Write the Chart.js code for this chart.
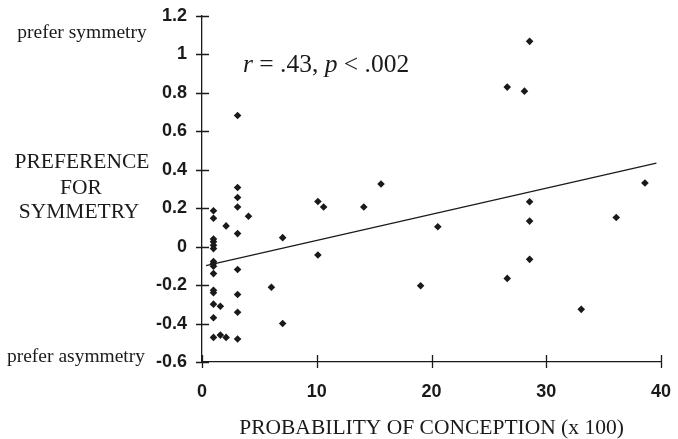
<!DOCTYPE html>
<html>
<head>
<meta charset="utf-8">
<script src="https://cdn.jsdelivr.net/npm/chart.js@4.4.1/dist/chart.umd.min.js"></script>
<style>
  html, body { margin: 0; padding: 0; background: #fff; }
  #wrap { width: 678px; height: 439px; }
</style>
</head>
<body>
<div id="wrap"><canvas id="scatter"></canvas></div>
<script>
// probability of conception (x 100) vs. preference for symmetry
const conceptionProb = [
    1, 1, 1, 1, 1, 1, 1, 1, 1, 1, 1, 1, 1, 1, 1,
    1.6, 1.6, 2.1, 2.1,
    3.1, 3.1, 3.1, 3.1, 3.1, 3.1, 3.1, 3.1, 3.1,
    4.05, 6.05, 7.03, 7.03, 10.1, 10.1, 10.6, 14.1, 15.6,
    19.05, 20.55, 26.6, 26.6, 28.1, 28.55, 28.55, 28.55, 28.55,
    33.05, 36.1, 38.6
];
const symmetryPref = [
    0.187, 0.148, 0.04, 0.026, 0.008, -0.01, -0.077, -0.088, -0.102, -0.14, -0.227, -0.24, -0.299, -0.37, -0.472,
    -0.31, -0.46, 0.108, -0.472,
    0.682, 0.308, 0.256, 0.206, 0.068, -0.119, -0.249, -0.341, -0.48,
    0.158, -0.211, 0.047, -0.4, 0.235, -0.043, 0.206, 0.206, 0.326,
    -0.203, 0.104, 0.83, -0.165, 0.809, 1.068, 0.234, 0.133, -0.066,
    -0.326, 0.152, 0.331
];
// fitted line end points
const fitX = [0.35, 39.6];
const fitY = [-0.099, 0.435];

const xTicks = [0, 10, 20, 30, 40];
const yTicks = [-0.6, -0.4, -0.2, 0, 0.2, 0.4, 0.6, 0.8, 1, 1.2];

const INK = '#1a1a1a';
const SERIF = '"Liberation Serif", "Times New Roman", serif';
const SANS = '"Liberation Sans", Arial, sans-serif';

function noScalePadding(s) {
    s.paddingTop = 0; s.paddingBottom = 0;
    s.paddingLeft = 0; s.paddingRight = 0;
}

// tick marks that cross the axis lines, plus the side labels and the r/p note
const decorations = {
    id: 'decorations',
    afterDraw(chart) {
        const ctx = chart.ctx;
        const xs = chart.scales.x, ys = chart.scales.y;
        const left = chart.chartArea.left, bottom = chart.chartArea.bottom;
        ctx.save();
        ctx.strokeStyle = INK;
        ctx.lineWidth = 1.3;
        ctx.beginPath();
        yTicks.forEach(v => {
            const py = Math.round(ys.getPixelForValue(v)) + 0.5;
            ctx.moveTo(left - 6, py);
            ctx.lineTo(left + 7, py);
        });
        xTicks.forEach(v => {
            const px = Math.round(xs.getPixelForValue(v)) + 0.5;
            ctx.moveTo(px, bottom - 7);
            ctx.lineTo(px, bottom + 6);
        });
        ctx.stroke();

        ctx.fillStyle = INK;
        ctx.textAlign = 'center';
        ctx.textBaseline = 'middle';
        ctx.font = '19.5px ' + SERIF;
        ctx.fillText('prefer symmetry', 82, 33);
        ctx.fillText('prefer asymmetry', 76, 357);
        ctx.font = '21.5px ' + SERIF;
        ctx.fillText('PREFERENCE', 82, 162);
        ctx.fillText('FOR', 81, 188);
        ctx.fillText('SYMMETRY', 79, 212);

        // r = .43, p < .002
        const parts = [
            ['r', true], [' = .43, ', false], ['p', true], [' < .002', false]
        ];
        ctx.textAlign = 'left';
        let tx = 243;
        parts.forEach(([s, it]) => {
            ctx.font = (it ? 'italic ' : '') + '25.5px ' + SERIF;
            ctx.fillText(s, tx, 65);
            tx += ctx.measureText(s).width;
        });
        ctx.restore();
    }
};

new Chart(document.getElementById('scatter'), {
    type: 'scatter',
    data: {
        datasets: [{
            data: conceptionProb.map((x, i) => ({ x: x, y: symmetryPref[i] })),
            pointStyle: 'rectRot',
            pointRadius: 3.8,
            pointHoverRadius: 3.8,
            backgroundColor: INK,
            borderColor: INK,
            borderWidth: 0
        }, {
            type: 'line',
            data: fitX.map((x, i) => ({ x: x, y: fitY[i] })),
            borderColor: INK,
            borderWidth: 1.2,
            pointRadius: 0,
            fill: false
        }]
    },
    options: {
        responsive: true,
        maintainAspectRatio: false,
        animation: false,
        events: [],
        layout: { padding: { top: 16, right: 17, left: 0, bottom: 0 } },
        plugins: { legend: { display: false }, tooltip: { enabled: false } },
        scales: {
            x: {
                type: 'linear',
                min: 0, max: 40,
                afterFit: s => { s.height = 77; noScalePadding(s); },
                afterBuildTicks: s => { s.ticks = xTicks.map(v => ({ value: v })); },
                grid: { display: false, drawTicks: false },
                border: { display: true, color: INK, width: 1.3 },
                ticks: {
                    padding: 19,
                    color: INK,
                    maxRotation: 0,
                    font: { family: SANS, size: 18, weight: 'bold' }
                },
                title: {
                    display: true,
                    text: 'PROBABILITY OF CONCEPTION (x 100)',
                    color: INK,
                    padding: { top: 0, bottom: 0 },
                    font: { family: SERIF, size: 21.5, lineHeight: 1 }
                }
            },
            y: {
                type: 'linear',
                min: -0.6, max: 1.2,
                afterFit: s => { s.width = 202; noScalePadding(s); },
                afterBuildTicks: s => { s.ticks = yTicks.map(v => ({ value: v })); },
                grid: { display: false, drawTicks: false },
                border: { display: true, color: INK, width: 1.3 },
                ticks: {
                    padding: 15,
                    color: INK,
                    callback: v => String(Math.round(v * 10) / 10),
                    font: { family: SANS, size: 18, weight: 'bold' }
                }
            }
        }
    },
    plugins: [decorations]
});
</script>
</body>
</html>
